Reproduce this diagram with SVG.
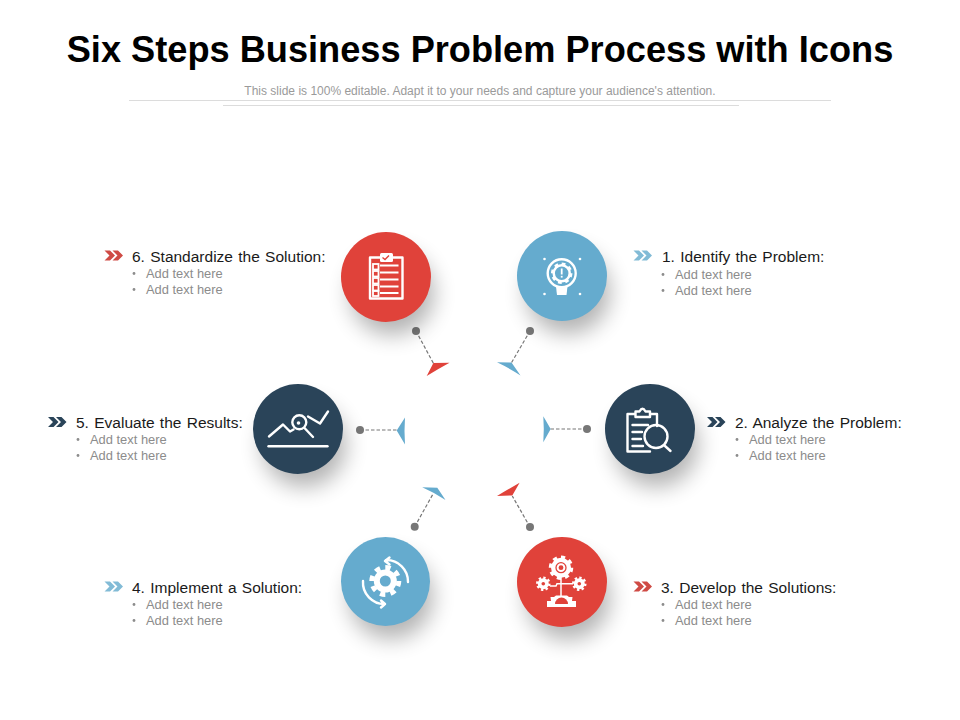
<svg xmlns="http://www.w3.org/2000/svg" width="960" height="720" viewBox="0 0 960 720">
<style>
text{font-family:"Liberation Sans",Arial,sans-serif}
.title{font-size:36.2px;font-weight:700;fill:#000;text-anchor:middle}
.sub{font-size:12px;fill:#9a9a9a;text-anchor:middle}
.h{font-size:15.500px;fill:#1a1a1a;word-spacing:1px}
.t{font-size:12.900px;fill:#8c8c8c}
.red{fill:#e0423a}.blue{fill:#65abce}.navy{fill:#2a4459}
.cr{fill:#cf4b45}.cb{fill:#82bbd6}.cn{fill:#2a4459}
.sh{fill:#000;opacity:.3;filter:url(#blur)}
.i{fill:none;stroke:#fff;stroke-width:2.4;stroke-linecap:round;stroke-linejoin:round}
.w{fill:#fff}
.dash{fill:none;stroke:#777;stroke-width:1.2;stroke-dasharray:3.5 2}
.dot{fill:#777}
.rule{stroke:#dcdcdc;stroke-width:1}
</style>
<defs>
<filter id="blur" x="-70%" y="-70%" width="240%" height="240%"><feGaussianBlur stdDeviation="11"/></filter>
<path id="chev" d="M0 0H5.500L10.500 5 5.500 10H0L5 5ZM8 0H13.500L18.500 5 13.500 10H8L13 5Z"/>
<circle id="b" r="1.400" fill="#8c8c8c"/>
</defs>
<rect width="960" height="720" fill="#fff"/>
<text class="title" x="480" y="62">Six Steps Business Problem Process with Icons</text>
<text class="sub" x="480" y="94.500">This slide is 100% editable. Adapt it to your needs and capture your audience's attention.</text>
<line class="rule" x1="129" y1="100.500" x2="831" y2="100.500"/>
<line class="rule" x1="223" y1="105.500" x2="739" y2="105.500"/>

<g id="connectors">
<path class="dash" d="M416 331L433.500 363.500M530 331L511 363.500M360 430H397M587 429H550M414.700 526.700L433 494M530 527L512.300 496"/>
<circle class="dot" cx="416" cy="331" r="4"/><circle class="dot" cx="530" cy="331" r="4"/>
<circle class="dot" cx="360" cy="430" r="4"/><circle class="dot" cx="587" cy="429" r="4"/>
<circle class="dot" cx="414.700" cy="526.700" r="4"/><circle class="dot" cx="530" cy="527" r="4"/>
<path class="red" d="M449.500 362.700L433.400 363 426.700 376Q437 369.500 449.500 362.700Z"/>
<path class="blue" d="M497 362.300L511.500 362.500 520.500 375.500Q510 368.500 497 362.300Z"/>
<path class="blue" d="M405 417.500L396.700 430.500 405 444.500Q404 431 405 417.500Z"/>
<path class="blue" d="M543.300 416.200L550.700 429 543.300 442.200Q544.300 429 543.300 416.200Z"/>
<path class="blue" d="M422.200 487.300L437.300 487.700 445.500 500Q435 493 422.200 487.300Z"/>
<path class="red" d="M497 495.900L512.300 495.500 519.600 482.700Q508 489.500 497 495.900Z"/>
</g>

<g id="step6">
<circle class="sh" cx="392" cy="293" r="42"/><circle class="red" cx="386" cy="277" r="45"/>
<path class="i" stroke-width="2" d="M380 257.500H370V298.500H402.500V257.500H393"/>
<rect class="w" x="380" y="253" width="13" height="9" rx="1.500"/>
<path d="M382.500 257.500l2.500 2 4-4" fill="none" stroke="#e0423a" stroke-width="1.400"/>
<g fill="none" stroke="#fff" stroke-width="1.800"><rect x="373" y="264" width="5.500" height="5.500"/><rect x="373" y="271" width="5.500" height="5.500"/><rect x="373" y="278" width="5.500" height="5.500"/><rect x="373" y="285" width="5.500" height="5.500"/><rect x="373" y="291" width="5.500" height="5"/>
<path d="M380 265.500H398.500M380 272.500H398.500M380 279.500H398.500M380 286.500H398.500M380 293H398.500"/></g>
</g>

<g id="step1">
<circle class="sh" cx="568" cy="292" r="42"/><circle class="blue" cx="562" cy="276" r="45"/>
<circle class="i" cx="561.700" cy="273.300" r="14" stroke-width="2.600"/>
<circle cx="561.700" cy="273.300" r="8" fill="none" stroke="#fff" stroke-width="2.500"/>
<circle cx="561.700" cy="273.300" r="9.500" fill="none" stroke="#fff" stroke-width="2.500" pathLength="16" stroke-dasharray="1 1"/>
<rect class="w" x="560.800" y="268.500" width="1.800" height="6"/><rect class="w" x="560.800" y="275.800" width="1.800" height="1.800"/>
<path class="w" d="M556 286.500H567.500L566.500 295H557Z"/>
<g class="w"><circle cx="544.500" cy="259" r="1.300"/><circle cx="580" cy="259" r="1.300"/><circle cx="544.500" cy="294" r="1.300"/><circle cx="580" cy="294" r="1.300"/></g>
</g>

<g id="step5">
<circle class="sh" cx="304" cy="445" r="42"/><circle class="navy" cx="298" cy="429" r="45"/>
<path class="i" d="M268.500 446.300H327.500"/>
<path class="i" d="M269 436.500L283 424.500 290 431.500 293.500 429.500M308 416.500L320 423.500 328 411.500"/>
<circle class="i" cx="299.300" cy="422.300" r="7"/><circle class="w" cx="298.500" cy="423" r="1.800"/>
<path class="i" stroke-width="3" d="M304.500 428L313 437"/>
</g>

<g id="step2">
<circle class="sh" cx="656" cy="445" r="42"/><circle class="navy" cx="650" cy="429" r="45"/>
<path class="i" d="M635 414H627.500V451.500H650M657 414H650M657 414V426"/>
<path class="i" d="M635.500 417V411.500H639.500Q642.500 406 645.500 411.500H650V417Z"/>
<path class="i" d="M632.500 425H648M632.500 432H642M632.500 439H641M632.500 446H643"/>
<circle class="i" cx="656" cy="436.500" r="11.500"/>
<path class="i" stroke-width="3.600" d="M665 446L670.500 451"/>
</g>

<g id="step4">
<circle class="sh" cx="391" cy="597" r="42"/><circle class="blue" cx="385.500" cy="581.500" r="44.500"/>
<circle cx="385.300" cy="581" r="8.500" fill="none" stroke="#fff" stroke-width="6"/>
<circle cx="385.300" cy="581" r="13.500" fill="none" stroke="#fff" stroke-width="5" pathLength="16" stroke-dasharray="1 1"/>
<path class="i" stroke-width="1.800" d="M386 560A21.500 21.500 0 0 1 408 582M385 561L389.500 557.500M385 561L389.500 564.500M363 581A21.500 21.500 0 0 0 385 604M385 604L381 600.500M385 604L381 607.500"/>
</g>

<g id="step3">
<circle class="sh" cx="568" cy="598" r="42"/><circle class="red" cx="562" cy="582" r="45"/>
<circle class="w" cx="561" cy="567.700" r="10"/>
<circle cx="561" cy="567.700" r="10.500" fill="none" stroke="#fff" stroke-width="3.500" pathLength="16" stroke-dasharray="1 1"/>
<circle cx="561" cy="567.700" r="5" fill="none" stroke="#e0423a" stroke-width="1.300"/><circle cx="561" cy="567.700" r="2.400" fill="#e0423a"/>
<g id="g3a"><circle class="w" cx="543.300" cy="583.700" r="5.500"/><circle cx="543.300" cy="583.700" r="6" fill="none" stroke="#fff" stroke-width="2.500" pathLength="16" stroke-dasharray="1 1"/><circle cx="543.300" cy="583.700" r="1.800" fill="#e0423a"/></g>
<g id="g3b"><circle class="w" cx="579.300" cy="583.700" r="5.500"/><circle cx="579.300" cy="583.700" r="6" fill="none" stroke="#fff" stroke-width="2.500" pathLength="16" stroke-dasharray="1 1"/><circle cx="579.300" cy="583.700" r="1.800" fill="#e0423a"/></g>
<path fill="none" stroke="#fff" stroke-width="1.500" d="M561 577V597M550 586H556L557 583.700H573"/>
<path class="w" d="M547 607V601H551L550.500 597H554L556 595.500H567L569 597H572.500L572 601H576V607Z"/>
<path fill="#e0423a" d="M555 604A6.500 6.500 0 0 1 568 604Z"/>
</g>

<g id="label6"><use href="#chev" x="104.500" y="250.500" class="cr"/><text class="h" x="132" y="262">6. Standardize the Solution:</text>
<use href="#b" x="134" y="273.500"/><text class="t" x="146" y="278">Add text here</text><use href="#b" x="134" y="289.500"/><text class="t" x="146" y="294">Add text here</text></g>
<g id="label1"><use href="#chev" x="633.500" y="250.500" class="cb"/><text class="h" x="662" y="262">1. Identify the Problem:</text>
<use href="#b" x="663" y="274.500"/><text class="t" x="675" y="279">Add text here</text><use href="#b" x="663" y="290.500"/><text class="t" x="675" y="295">Add text here</text></g>
<g id="label5"><use href="#chev" x="48" y="417" class="cn"/><text class="h" x="76" y="428">5. Evaluate the Results:</text>
<use href="#b" x="78" y="439.500"/><text class="t" x="90" y="444">Add text here</text><use href="#b" x="78" y="455.500"/><text class="t" x="90" y="460">Add text here</text></g>
<g id="label2"><use href="#chev" x="707" y="417" class="cn"/><text class="h" x="735" y="428">2. Analyze the Problem:</text>
<use href="#b" x="737" y="439.500"/><text class="t" x="749" y="444">Add text here</text><use href="#b" x="737" y="455.500"/><text class="t" x="749" y="460">Add text here</text></g>
<g id="label4"><use href="#chev" x="104.500" y="581.500" class="cb"/><text class="h" x="132" y="593">4. Implement a Solution:</text>
<use href="#b" x="134" y="604.500"/><text class="t" x="146" y="609">Add text here</text><use href="#b" x="134" y="620.500"/><text class="t" x="146" y="625">Add text here</text></g>
<g id="label3"><use href="#chev" x="633.500" y="581.500" class="cr"/><text class="h" x="661" y="593">3. Develop the Solutions:</text>
<use href="#b" x="663" y="604.500"/><text class="t" x="675" y="609">Add text here</text><use href="#b" x="663" y="620.500"/><text class="t" x="675" y="625">Add text here</text></g>
</svg>
